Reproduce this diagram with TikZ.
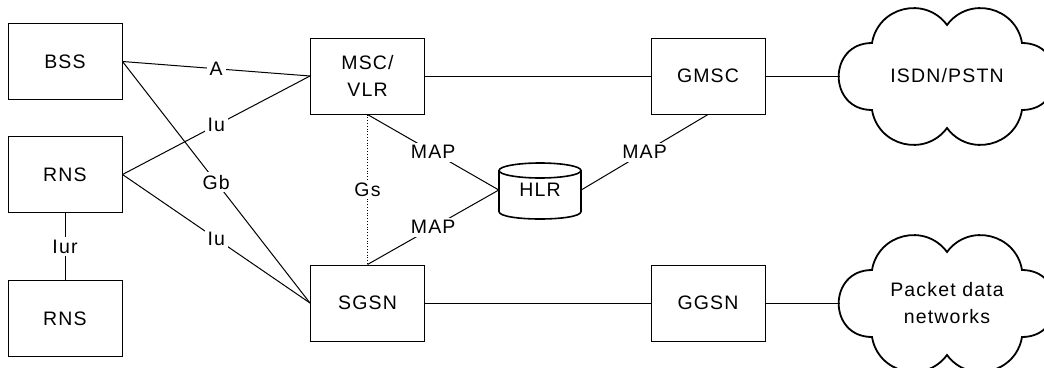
\documentclass[tikz,border=0pt]{standalone}
\usepackage{fontspec}
\setmainfont{Liberation Sans}[LetterSpace=6]
\begin{document}
\begin{tikzpicture}[x=1pt,y=-1pt,
  every node/.style={font=\fontsize{19.5}{27}\selectfont},
  box/.style={draw, line width=1pt, minimum width=114pt, minimum height=76pt, inner sep=0pt, align=center},
  conn/.style={line width=1pt},
  lbl/.style={fill=white, inner sep=3pt, pos=0.5},
  cloudline/.style={line width=1.8pt},
  cyl/.style={line width=1.6pt},
  bumpv/.style={bend left=90, looseness=1.7},
  bumph/.style={bend left=67, looseness=1.22}]
\useasboundingbox[fill=white] (0,0) rectangle (1044,367);
% boxes
\node[box] (bss) at (65,61.5) {BSS};
\node[box] (rns1) at (65,174.5) {RNS};
\node[box] (rns2) at (65,318.5) {RNS};
\node[box] (msc) at (367.5,76) {MSC/\\VLR};
\node[box] (sgsn) at (367.5,303) {SGSN};
\node[box] (gmsc) at (708,76) {GMSC};
\node[box] (ggsn) at (708,303) {GGSN};
% HLR
\node[minimum width=82pt, minimum height=56pt, inner sep=0pt] (hlr) at (540,190) {HLR};
\begin{scope}[shift={(hlr.center)}]
  \draw[cyl] (0,-19.5) ellipse [x radius=41, y radius=7.5];
  \draw[cyl] (-41,-19.5) -- (-41,21.5) .. controls (-41,31.5) and (41,31.5) .. (41,21.5) -- (41,-19.5);
\end{scope}
% clouds
\node[minimum width=214pt, minimum height=135pt, inner sep=0pt, align=center] (isdn) at (947,76) {ISDN/PSTN};
\node[minimum width=214pt, minimum height=135pt, inner sep=0pt, align=center] (pdn) at (947,303) {Packet data\\networks};
\foreach \c in {isdn,pdn}{
\begin{scope}[shift={(\c.center)}]
  \draw[cloudline] (-75,34) to[bumpv] (-75,-33) to[bumph] (0,-51) to[bumph] (75,-33)
     to[bumpv] (75,34) to[bumph] (0,52) to[bumph] (-75,34) -- cycle;
\end{scope}}
% connectors
\draw[conn] (bss.east) -- node[lbl]{A} (msc.west);
\draw[conn] (bss.east) -- node[lbl]{Gb} (sgsn.west);
\draw[conn] (rns1.east) -- node[lbl]{Iu} (msc.west);
\draw[conn] (rns1.east) -- node[lbl]{Iu} (sgsn.west);
\draw[conn] (rns1.south) -- node[lbl]{Iur} (rns2.north);
\draw[dotted, line width=0.8pt] (msc.south) -- node[lbl]{Gs} (sgsn.north);
\draw[conn] (msc.south) -- node[lbl]{MAP} (hlr.west);
\draw[conn] (sgsn.north) -- node[lbl]{MAP} (hlr.west);
\draw[conn] (gmsc.south) -- node[lbl]{MAP} (hlr.east);
\draw[conn] (msc.east) -- (gmsc.west);
\draw[conn] (sgsn.east) -- (ggsn.west);
\draw[conn] (gmsc.east) -- (isdn.west);
\draw[conn] (ggsn.east) -- (pdn.west);
\end{tikzpicture}
\end{document}
